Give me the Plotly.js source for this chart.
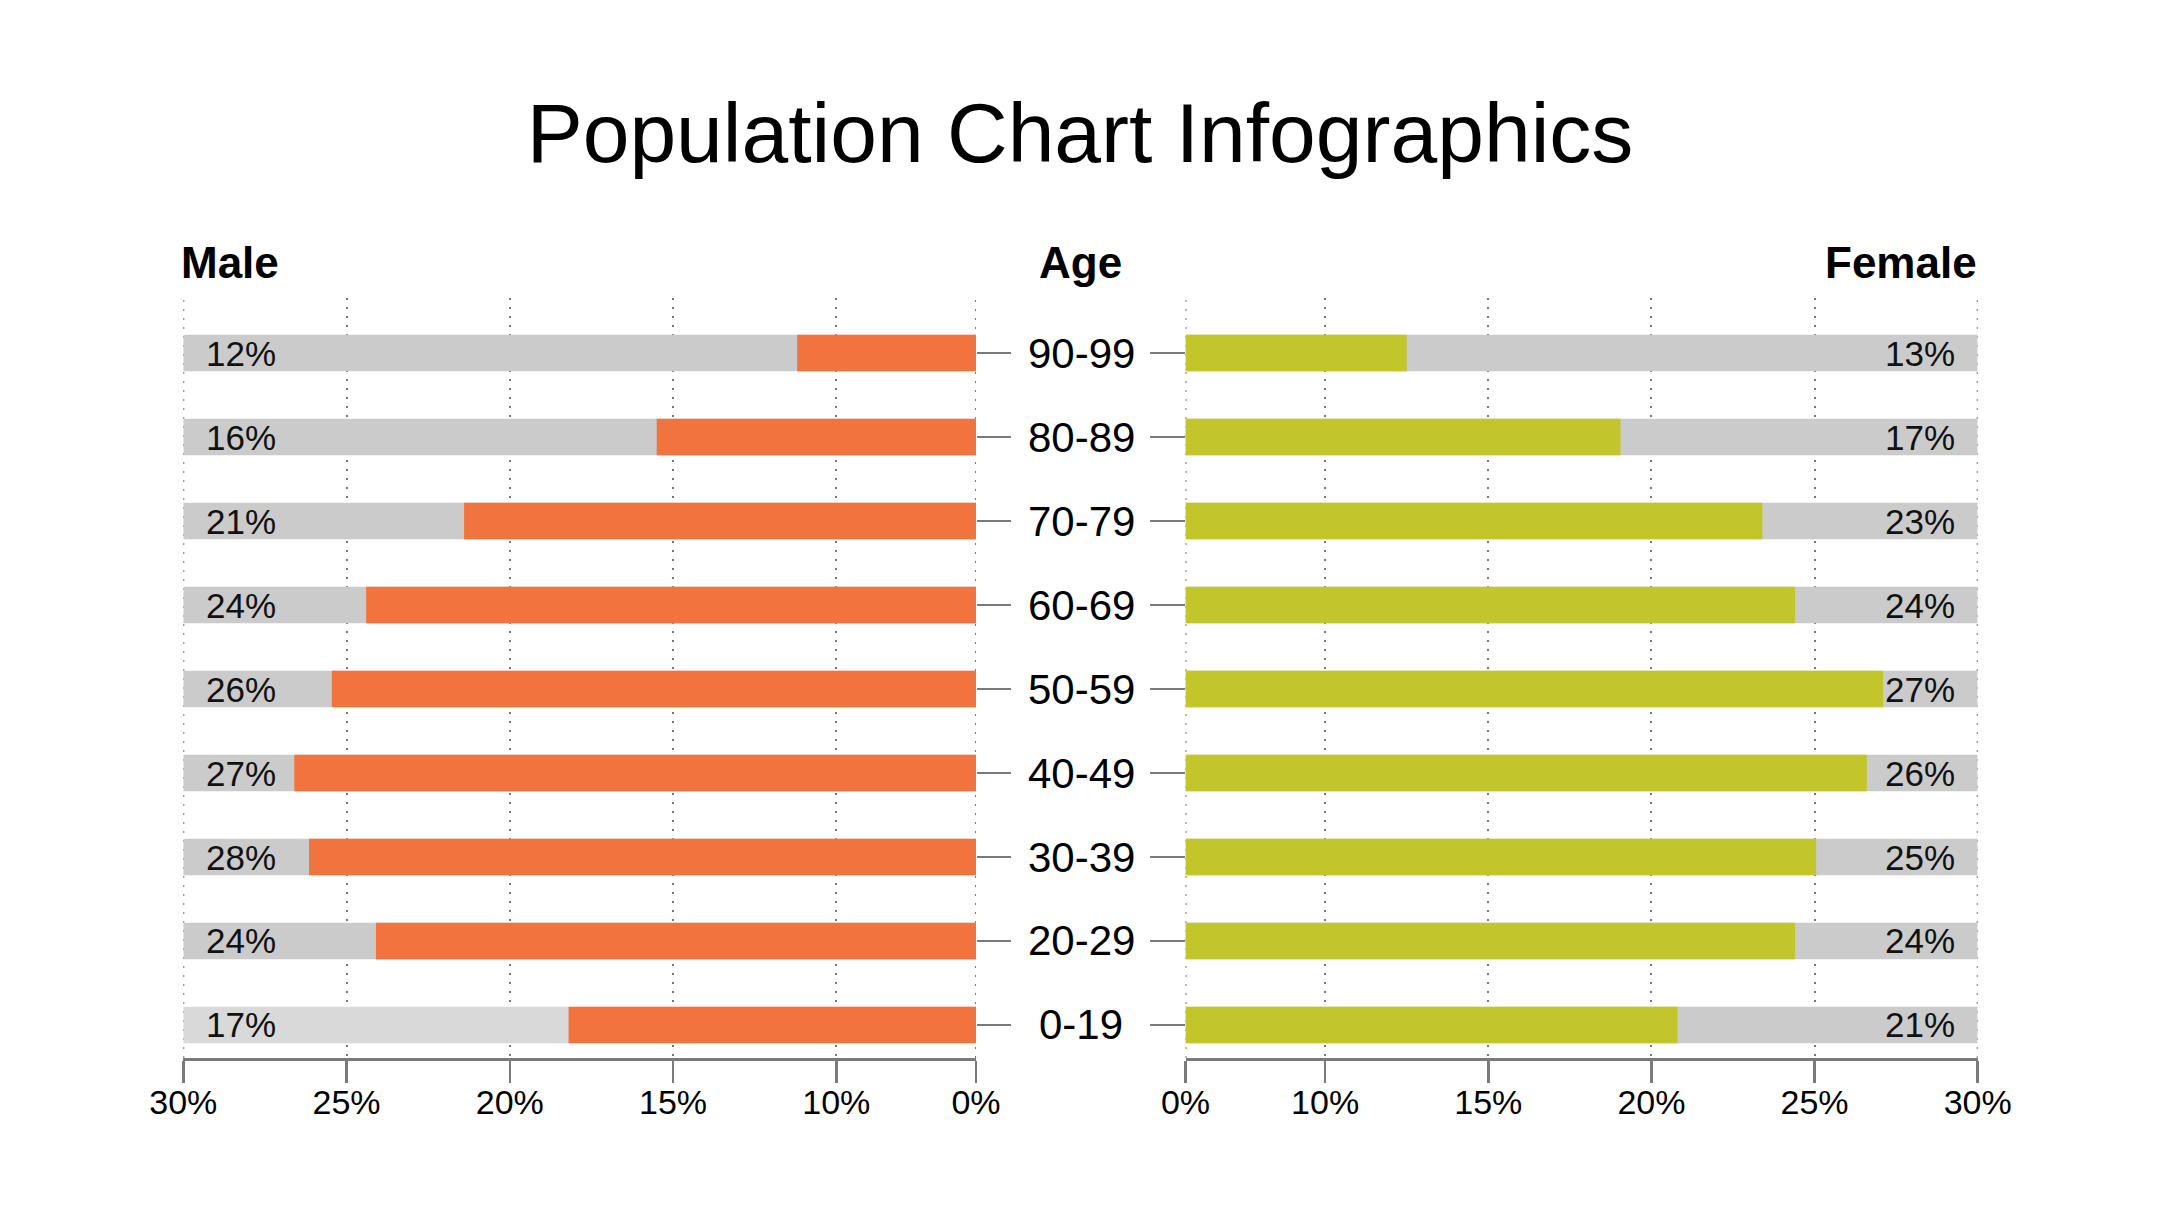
<!DOCTYPE html>
<html>
<head>
<meta charset="utf-8">
<script src="https://cdn.plot.ly/plotly-3.0.1.min.js"></script>
<style>
  html, body { margin: 0; padding: 0; background: #ffffff; }
  #chart { width: 2160px; height: 1215px; }
</style>
</head>
<body>
<div id="chart"></div>
<script>
// ---- data (bottom row first) ----
const ageGroups = ['0-19', '20-29', '30-39', '40-49', '50-59', '60-69', '70-79', '80-89', '90-99'];
const maleValues = [18.2, 24.1, 26.15, 26.6, 25.45, 24.4, 21.4, 15.5, 11.2];
const maleLabels = ['17%', '24%', '28%', '27%', '26%', '24%', '21%', '16%', '12%'];
const femaleValues = [20.8, 24.4, 25.05, 26.6, 27.1, 24.4, 23.4, 19.05, 12.5];
const femaleLabels = ['21%', '24%', '25%', '26%', '27%', '24%', '23%', '17%', '13%'];
const tickText = ['0%', '10%', '15%', '20%', '25%', '30%'];
const tickNums = [10, 15, 20, 25, 30];

// ---- styling constants ----
const AXIS_MIN = 5.72;   // where the axis labelled "0%" sits
const AXIS_MAX = 30;
const FONT = 'Liberation Sans, Arial, sans-serif';
const ORANGE = '#F1743F';
const GREEN = '#C2C62A';
const GREY = '#CBCBCB';
const LIGHT_GREY = '#D9D9D9';
const LINE_GREY = '#7A7A7A';
const GRID_GREY = '#777777';
const GRID_DASH = '2px,7px';

const tickVals = [AXIS_MIN].concat(tickNums);
const bgExtent = ageGroups.map(() => AXIS_MAX - AXIS_MIN);
const maleBg = ageGroups.map((g, i) => i === 0 ? LIGHT_GREY : GREY);
const BAR_W = 0.437;

const traces = [
  { type: 'bar', orientation: 'h', y: ageGroups, x: bgExtent, base: AXIS_MIN,
    xaxis: 'x', yaxis: 'y', width: BAR_W, marker: { color: maleBg, line: { width: 0 } }, hoverinfo: 'skip' },
  { type: 'bar', orientation: 'h', y: ageGroups, x: maleValues.map(v => v - AXIS_MIN), base: AXIS_MIN,
    xaxis: 'x', yaxis: 'y', width: BAR_W, marker: { color: ORANGE, line: { width: 0 } } },
  { type: 'bar', orientation: 'h', y: ageGroups, x: bgExtent, base: AXIS_MIN,
    xaxis: 'x2', yaxis: 'y2', width: BAR_W, marker: { color: GREY, line: { width: 0 } }, hoverinfo: 'skip' },
  { type: 'bar', orientation: 'h', y: ageGroups, x: femaleValues.map(v => v - AXIS_MIN), base: AXIS_MIN,
    xaxis: 'x2', yaxis: 'y2', width: BAR_W, marker: { color: GREEN, line: { width: 0 } } }
];

const yRange = [-0.393, 8.655];

const xCommon = {
  tickvals: tickVals, ticktext: tickText,
  tickfont: { family: FONT, size: 34, color: '#000' },
  ticks: 'outside', ticklen: 22, tickwidth: 2.5, tickcolor: LINE_GREY, ticklabelstandoff: -9,
  showline: true, linecolor: LINE_GREY, linewidth: 2.5,
  showgrid: true, gridcolor: GRID_GREY, gridwidth: 2, griddash: GRID_DASH,
  zeroline: false, fixedrange: true
};

// dotted grid lines on the outer edges of both panels
const shapes = [];
[['x', 'y'], ['x2', 'y2']].forEach(([xa, ya]) => {
  [AXIS_MIN, AXIS_MAX].forEach(v => {
    shapes.push({ type: 'line', layer: 'below', xref: xa, yref: ya + ' domain',
      x0: v, x1: v, y0: 0, y1: 1,
      line: { color: GRID_GREY, width: 2, dash: GRID_DASH } });
  });
});

const HEAD_FONT = { family: FONT, size: 44, color: '#000' };
const annotations = [
  { text: '<b>Male</b>', xref: 'paper', yref: 'paper', x: 179 / 2160, y: 1.0465,
    xanchor: 'left', yanchor: 'middle', showarrow: false, font: HEAD_FONT },
  { text: '<b>Age</b>', xref: 'paper', yref: 'paper', x: 0.5, y: 1.0465,
    xanchor: 'center', yanchor: 'middle', showarrow: false, font: HEAD_FONT },
  { text: '<b>Female</b>', xref: 'paper', yref: 'paper', x: 1979 / 2160, y: 1.0465,
    xanchor: 'right', yanchor: 'middle', showarrow: false, font: HEAD_FONT }
];
ageGroups.forEach((g, i) => {
  annotations.push({ text: maleLabels[i], xref: 'x', yref: 'y', x: AXIS_MAX, y: g,
    xanchor: 'left', yanchor: 'middle', xshift: 21, showarrow: false,
    font: { family: FONT, size: 35, color: '#111' } });
  annotations.push({ text: femaleLabels[i], xref: 'x2', yref: 'y2', x: AXIS_MAX, y: g,
    xanchor: 'right', yanchor: 'middle', xshift: -21, showarrow: false,
    font: { family: FONT, size: 35, color: '#111' } });
  // centred age-group label between the two panels
  annotations.push({ text: g, xref: 'paper', yref: 'y2', x: 1081 / 2160, y: g,
    xanchor: 'center', yanchor: 'middle', showarrow: false,
    font: { family: FONT, size: 42, color: '#000' } });
});

const layout = {
  width: 2160, height: 1215,
  margin: { l: 0, r: 0, t: 298, b: 157, pad: 0 },
  paper_bgcolor: '#ffffff', plot_bgcolor: '#ffffff',
  showlegend: false, barmode: 'overlay',
  title: { text: 'Population Chart Infographics', x: 0.5, xanchor: 'center', xref: 'paper',
    y: 0.8908, yanchor: 'middle', yref: 'container',
    font: { family: FONT, size: 84, color: '#000' } },
  xaxis: Object.assign({}, xCommon, { domain: [183.3 / 2160, 976 / 2160], range: [AXIS_MAX, AXIS_MIN], anchor: 'y' }),
  xaxis2: Object.assign({}, xCommon, { domain: [1185.5 / 2160, 1977.7 / 2160], range: [AXIS_MIN, AXIS_MAX], anchor: 'y2' }),
  yaxis: { anchor: 'x', side: 'right', type: 'category', range: yRange,
    showticklabels: false, ticks: 'outside', ticklen: 34, tickwidth: 2.5, tickcolor: LINE_GREY,
    showgrid: false, zeroline: false, showline: false, fixedrange: true },
  yaxis2: { anchor: 'x2', side: 'left', type: 'category', range: yRange,
    showticklabels: false,
    ticks: 'outside', ticklen: 35, tickwidth: 2.5, tickcolor: LINE_GREY,
    showgrid: false, zeroline: false, showline: false, fixedrange: true },
  shapes: shapes,
  annotations: annotations
};

Plotly.newPlot('chart', traces, layout, { displayModeBar: false, staticPlot: true });
</script>
</body>
</html>
